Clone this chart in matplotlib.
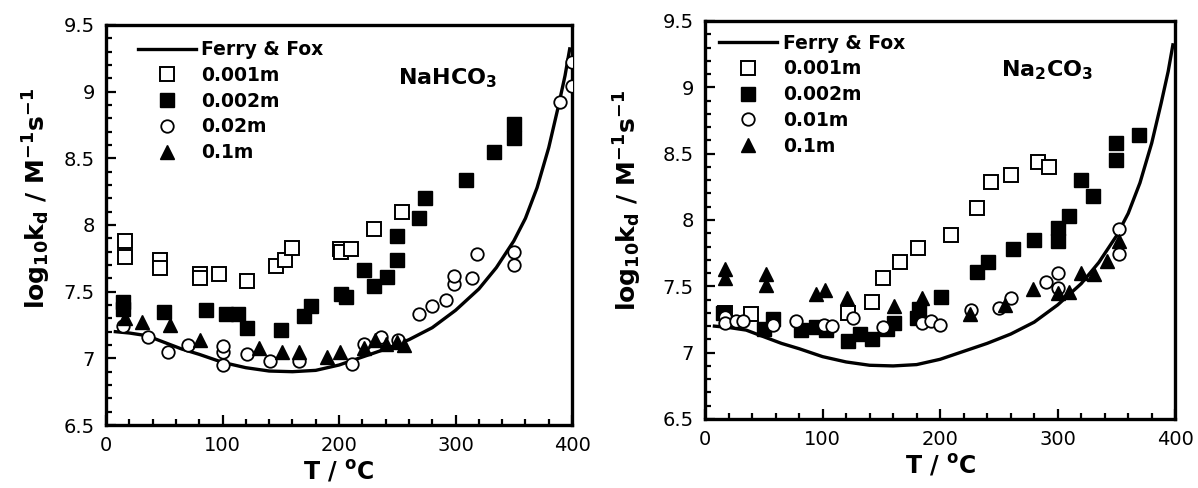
import matplotlib

matplotlib.use("Agg")
import matplotlib.pyplot as plt
from matplotlib.ticker import MultipleLocator, FormatStrFormatter

# Ferry & Fox curve (same in both panels)
ff_T = [8, 20, 35, 50, 65, 80, 100, 120, 140, 160, 180, 200, 220, 240, 260,
        280, 300, 320, 335, 350, 360, 370, 380, 388, 394, 398]
ff_v = [7.20, 7.19, 7.17, 7.12, 7.07, 7.03, 6.97, 6.93, 6.905, 6.90, 6.91, 6.95,
        7.01, 7.07, 7.14, 7.23, 7.36, 7.52, 7.68, 7.88, 8.05, 8.28, 8.58, 8.88,
        9.12, 9.32]

# NaHCO3 panel
hc_001_T = [16, 16, 46, 46, 81, 81, 97, 121, 146, 154, 160, 201, 202, 210, 230, 254]
hc_001_v = [7.88, 7.76, 7.74, 7.68, 7.63, 7.60, 7.63, 7.58, 7.69, 7.74, 7.83,
            7.82, 7.80, 7.82, 7.97, 8.10]
hc_002_T = [15, 15, 50, 86, 103, 113, 121, 150, 170, 176, 202, 206, 221, 230,
            241, 250, 250, 269, 274, 309, 333, 350, 350]
hc_002_v = [7.42, 7.37, 7.35, 7.36, 7.33, 7.33, 7.23, 7.21, 7.32, 7.39, 7.48,
            7.46, 7.66, 7.54, 7.61, 7.74, 7.92, 8.05, 8.20, 8.34, 8.55, 8.76, 8.65]
hc_02_T = [15, 36, 53, 70, 100, 100, 100, 121, 141, 166, 211, 221, 236, 251,
           269, 280, 292, 299, 299, 314, 318, 350, 350, 390, 400, 400]
hc_02_v = [7.24, 7.16, 7.05, 7.10, 7.05, 6.95, 7.09, 7.03, 6.98, 6.98, 6.96,
           7.11, 7.16, 7.14, 7.33, 7.39, 7.44, 7.56, 7.62, 7.60, 7.78, 7.80,
           7.70, 8.92, 9.22, 9.04]
hc_1_T = [16, 31, 55, 81, 131, 151, 166, 190, 201, 221, 231, 240, 250, 256]
hc_1_v = [7.30, 7.27, 7.25, 7.14, 7.08, 7.05, 7.05, 7.01, 7.05, 7.08, 7.14,
          7.11, 7.12, 7.10]

# Na2CO3 panel
c_001_T = [17, 39, 122, 142, 151, 166, 181, 209, 231, 243, 260, 283, 293]
c_001_v = [7.30, 7.29, 7.30, 7.38, 7.56, 7.68, 7.79, 7.89, 8.09, 8.29, 8.34,
           8.44, 8.40]
c_002_T = [15, 50, 58, 82, 94, 103, 122, 132, 142, 155, 161, 180, 182, 201,
           231, 241, 262, 280, 300, 300, 310, 320, 330, 350, 350, 369]
c_002_v = [7.30, 7.18, 7.25, 7.17, 7.19, 7.17, 7.09, 7.14, 7.10, 7.18, 7.22,
           7.26, 7.33, 7.42, 7.61, 7.68, 7.78, 7.85, 7.94, 7.84, 8.03, 8.30,
           8.18, 8.58, 8.45, 8.64]
c_01_T = [17, 17, 26, 32, 58, 77, 101, 108, 126, 151, 185, 192, 200, 226, 250,
          260, 290, 300, 300, 352, 352]
c_01_v = [7.27, 7.22, 7.24, 7.24, 7.21, 7.24, 7.21, 7.20, 7.26, 7.19, 7.22,
          7.24, 7.21, 7.32, 7.34, 7.41, 7.53, 7.60, 7.49, 7.93, 7.74]
c_1_T = [17, 17, 52, 52, 94, 102, 121, 161, 185, 225, 255, 279, 300, 310, 320,
         331, 342, 352]
c_1_v = [7.63, 7.56, 7.59, 7.51, 7.44, 7.47, 7.41, 7.35, 7.41, 7.29, 7.36,
         7.48, 7.45, 7.46, 7.60, 7.59, 7.69, 7.84]

plt.rcParams.update({
    "font.family": "DejaVu Sans",
    "mathtext.fontset": "dejavusans",
    "mathtext.default": "bf",
})

fig = plt.figure(figsize=(11.98, 4.88), dpi=100)
ax1 = fig.add_axes([0.0885, 0.129, 0.389, 0.820])
ax2 = fig.add_axes([0.5885, 0.1414, 0.3925, 0.8156])

panels = [
    (ax1, (hc_001_T, hc_001_v), (hc_002_T, hc_002_v), (hc_02_T, hc_02_v),
     (hc_1_T, hc_1_v), "0.02m", r"NaHCO$_3$", (0.068, 0.962), (0.627, 0.851),
     (-0.113, 0.565)),
    (ax2, (c_001_T, c_001_v), (c_002_T, c_002_v), (c_01_T, c_01_v),
     (c_1_T, c_1_v), "0.01m", r"Na$_2$CO$_3$", (0.030, 0.968), (0.630, 0.862),
     (-0.129, 0.55)),
]

for ax, s1, s2, s3, s4, lab3, name, anchor, name_xy, ylab_xy in panels:
    ax.plot(ff_T, ff_v, color="black", lw=2.4, label="Ferry & Fox", zorder=2)
    ax.plot(*s1, ls="none", marker="s", ms=10.5, mfc="white", mec="black",
            mew=1.4, label="0.001m", zorder=3)
    ax.plot(*s2, ls="none", marker="s", ms=10.5, mfc="black", mec="black",
            label="0.002m", zorder=3)
    ax.plot(*s3, ls="none", marker="o", ms=9, mfc="white", mec="black",
            mew=1.3, label=lab3, zorder=4)
    ax.plot(*s4, ls="none", marker="^", ms=9.5, mfc="black", mec="black",
            label="0.1m", zorder=4)

    ax.set_xlim(0, 400)
    ax.set_ylim(6.5, 9.5)
    ax.xaxis.set_major_locator(MultipleLocator(100))
    ax.xaxis.set_minor_locator(MultipleLocator(20))
    ax.yaxis.set_major_locator(MultipleLocator(0.5))
    ax.yaxis.set_minor_locator(MultipleLocator(0.1))
    ax.yaxis.set_major_formatter(FormatStrFormatter("%g"))
    ax.tick_params(which="both", direction="in", top=False, right=False,
                   labelsize=14, width=1.6)
    ax.tick_params(which="major", length=7, pad=8)
    ax.tick_params(which="minor", length=4)
    for sp in ax.spines.values():
        sp.set_linewidth(2.4)

    ax.set_xlabel(r"T / $^o$C", fontsize=17, fontweight="bold", labelpad=2)
    ax.set_ylabel(r"log$_{10}$k$_d$ / M$^{-1}$s$^{-1}$", fontsize=18,
                  fontweight="bold")
    ax.yaxis.set_label_coords(*ylab_xy)

    ax.legend(loc="upper left", bbox_to_anchor=anchor, frameon=False,
              handlelength=3.1, handletextpad=0.3, labelspacing=0.36,
              borderpad=0, borderaxespad=0,
              prop={"weight": "bold", "size": 13.5})
    ax.text(name_xy[0], name_xy[1], name, transform=ax.transAxes, fontsize=16,
            fontweight="bold", va="baseline", ha="left")

fig.savefig("out.png", dpi=100)
